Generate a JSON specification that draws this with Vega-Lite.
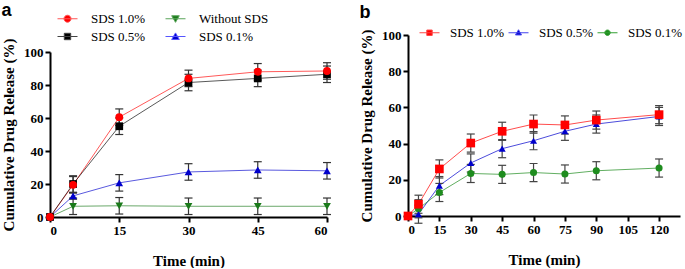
{
  "$schema": "https://vega.github.io/schema/vega-lite/v6.json",
  "padding": {"left": 1, "top": 2, "right": 0, "bottom": 0},
  "spacing": 22,
  "datasets": {
    "a": [
      {"series": "SDS 1.0%", "time": 0, "release": 0, "err": 0},
      {"series": "SDS 1.0%", "time": 5, "release": 19.5, "err": 5},
      {"series": "SDS 1.0%", "time": 15, "release": 60.5, "err": 5},
      {"series": "SDS 1.0%", "time": 30, "release": 84, "err": 5},
      {"series": "SDS 1.0%", "time": 45, "release": 88, "err": 5},
      {"series": "SDS 1.0%", "time": 60, "release": 88.5, "err": 5},
      {"series": "SDS 0.5%", "time": 0, "release": 0, "err": 0},
      {"series": "SDS 0.5%", "time": 5, "release": 20, "err": 5},
      {"series": "SDS 0.5%", "time": 15, "release": 55, "err": 5},
      {"series": "SDS 0.5%", "time": 30, "release": 81.5, "err": 5},
      {"series": "SDS 0.5%", "time": 45, "release": 84, "err": 5},
      {"series": "SDS 0.5%", "time": 60, "release": 86.5, "err": 5},
      {"series": "Without SDS", "time": 0, "release": 0, "err": 0},
      {"series": "Without SDS", "time": 5, "release": 6.5, "err": 5},
      {"series": "Without SDS", "time": 15, "release": 6.8, "err": 5},
      {"series": "Without SDS", "time": 30, "release": 6.5, "err": 5},
      {"series": "Without SDS", "time": 45, "release": 6.5, "err": 5},
      {"series": "Without SDS", "time": 60, "release": 6.5, "err": 5},
      {"series": "SDS 0.1%", "time": 0, "release": 0, "err": 0},
      {"series": "SDS 0.1%", "time": 5, "release": 12.8, "err": 2},
      {"series": "SDS 0.1%", "time": 15, "release": 20.7, "err": 5},
      {"series": "SDS 0.1%", "time": 30, "release": 27.3, "err": 5},
      {"series": "SDS 0.1%", "time": 45, "release": 28.5, "err": 5},
      {"series": "SDS 0.1%", "time": 60, "release": 28, "err": 5}
    ],
    "b": [
      {"series": "SDS 1.0%", "time": 0, "release": 0, "err": 0},
      {"series": "SDS 1.0%", "time": 5, "release": 6.5, "err": 5},
      {"series": "SDS 1.0%", "time": 15, "release": 26, "err": 5},
      {"series": "SDS 1.0%", "time": 30, "release": 40.3, "err": 5},
      {"series": "SDS 1.0%", "time": 45, "release": 46.8, "err": 5},
      {"series": "SDS 1.0%", "time": 60, "release": 50.8, "err": 5},
      {"series": "SDS 1.0%", "time": 75, "release": 50.3, "err": 5},
      {"series": "SDS 1.0%", "time": 90, "release": 53, "err": 5},
      {"series": "SDS 1.0%", "time": 120, "release": 56, "err": 5},
      {"series": "SDS 0.5%", "time": 0, "release": 0, "err": 0},
      {"series": "SDS 0.5%", "time": 5, "release": 1, "err": 5},
      {"series": "SDS 0.5%", "time": 15, "release": 16.8, "err": 5},
      {"series": "SDS 0.5%", "time": 30, "release": 29.3, "err": 5},
      {"series": "SDS 0.5%", "time": 45, "release": 37.2, "err": 5},
      {"series": "SDS 0.5%", "time": 60, "release": 41.6, "err": 5},
      {"series": "SDS 0.5%", "time": 75, "release": 46.8, "err": 5},
      {"series": "SDS 0.5%", "time": 90, "release": 50.8, "err": 5},
      {"series": "SDS 0.5%", "time": 120, "release": 55, "err": 5},
      {"series": "SDS 0.1%", "time": 0, "release": 0, "err": 0},
      {"series": "SDS 0.1%", "time": 5, "release": 4, "err": 5},
      {"series": "SDS 0.1%", "time": 15, "release": 13, "err": 5},
      {"series": "SDS 0.1%", "time": 30, "release": 23.5, "err": 5},
      {"series": "SDS 0.1%", "time": 45, "release": 23, "err": 5},
      {"series": "SDS 0.1%", "time": 60, "release": 24, "err": 5},
      {"series": "SDS 0.1%", "time": 75, "release": 23.2, "err": 5},
      {"series": "SDS 0.1%", "time": 90, "release": 25, "err": 5},
      {"series": "SDS 0.1%", "time": 120, "release": 26.5, "err": 5}
    ]
  },
  "hconcat": [
    {
      "width": 277,
      "height": 182,
      "title": {"text": "a", "anchor": "start", "font": "Liberation Sans", "fontSize": 18, "fontWeight": "bold", "color": "#000", "offset": -12},
      "data": {"name": "a"},
      "encoding": {
        "x": {"field": "time", "type": "quantitative", "scale": {"domain": [0, 60], "nice": false}, "axis": {"values": [0, 15, 30, 45, 60], "title": "Time (min)"}},
        "y": {"field": "release", "type": "quantitative", "scale": {"domain": [0, 100], "nice": false, "range": [182, 17]}, "axis": {"values": [0, 20, 40, 60, 80, 100], "title": "Cumulative Drug Release (%)"}}
      },
      "layer": [
        {
          "mark": {"type": "point", "filled": true, "opacity": 0, "size": 400, "strokeWidth": 1},
          "encoding": {
            "fill": {"field": "series", "type": "nominal", "scale": {"domain": ["SDS 1.0%", "Without SDS", "SDS 0.5%", "SDS 0.1%"], "range": ["#ff0000", "#1a7a1a", "#000000", "#0000cc"]}},
            "stroke": {"field": "series", "type": "nominal", "scale": {"domain": ["SDS 1.0%", "Without SDS", "SDS 0.5%", "SDS 0.1%"], "range": ["#ff5555", "#5aa55a", "#444444", "#5555ff"]}},
            "shape": {"field": "series", "type": "nominal",
              "scale": {"domain": ["SDS 1.0%", "Without SDS", "SDS 0.5%", "SDS 0.1%"], "range": [
                "M-1,0H1M0.35,0A0.35,0.35,0,1,1,-0.35,0A0.35,0.35,0,1,1,0.35,0Z",
                "M-1,0H1M-0.38,-0.3H0.38L0,0.36Z",
                "M-1,0H1M-0.32,-0.32H0.32V0.32H-0.32Z",
                "M-1,0H1M-0.38,0.3H0.38L0,-0.36Z"
              ]},
              "legend": {"title": null, "orient": "none", "legendX": 7, "legendY": -27, "columns": 2, "direction": "horizontal", "symbolSize": 400, "symbolStrokeWidth": 1, "symbolOpacity": 1, "labelOffset": 13, "columnPadding": 17, "rowPadding": -2, "padding": 0, "labelFont": "Liberation Serif", "labelFontSize": 13, "labelColor": "#000"}}
          }
        },
        {
          "mark": {"type": "line", "strokeWidth": 1, "opacity": 0.65},
          "encoding": {"color": {"field": "series", "type": "nominal", "scale": {"domain": ["SDS 1.0%", "Without SDS", "SDS 0.5%", "SDS 0.1%"], "range": ["#ff0000", "#1a7a1a", "#000000", "#0000cc"]}, "legend": null}}
        },
        {
          "mark": {"type": "errorbar", "thickness": 1.2, "color": "#333333", "ticks": {"size": 8, "opacity": 1, "color": "#333333"}},
          "encoding": {"yError": {"field": "err"}, "detail": {"field": "series"}}
        },
        {
          "transform": [{"filter": "datum.series === 'Without SDS'"}],
          "mark": {"type": "point", "shape": "triangle-down", "filled": true, "opacity": 1, "size": 60, "strokeWidth": 0},
          "encoding": {"color": {"field": "series", "type": "nominal", "legend": null}}
        },
        {
          "transform": [{"filter": "datum.series === 'SDS 0.1%'"}],
          "mark": {"type": "point", "shape": "triangle-up", "filled": true, "opacity": 1, "size": 60, "strokeWidth": 0},
          "encoding": {"color": {"field": "series", "type": "nominal", "legend": null}}
        },
        {
          "transform": [{"filter": "datum.series === 'SDS 0.5%'"}],
          "mark": {"type": "point", "shape": "square", "filled": true, "opacity": 1, "size": 60, "strokeWidth": 0},
          "encoding": {"color": {"field": "series", "type": "nominal", "legend": null}}
        },
        {
          "transform": [{"filter": "datum.series === 'SDS 1.0%'"}],
          "mark": {"type": "point", "shape": "circle", "filled": true, "opacity": 1, "size": 62, "strokeWidth": 0},
          "encoding": {"color": {"field": "series", "type": "nominal", "legend": null}}
        }
      ]
    },
    {
      "width": 272,
      "height": 181,
      "title": {"text": "b", "anchor": "start", "font": "Liberation Sans", "fontSize": 18, "fontWeight": "bold", "color": "#000", "offset": 0},
      "data": {"name": "b"},
      "encoding": {
        "x": {"field": "time", "type": "quantitative", "scale": {"domain": [0, 130], "nice": false}, "axis": {"values": [0, 15, 30, 45, 60, 75, 90, 105, 120], "title": "Time (min)"}},
        "y": {"field": "release", "type": "quantitative", "scale": {"domain": [0, 100], "nice": false}, "axis": {"values": [0, 20, 40, 60, 80, 100], "title": "Cumulative Drug Release (%)"}}
      },
      "layer": [
        {
          "mark": {"type": "point", "filled": true, "opacity": 0, "size": 400, "strokeWidth": 1},
          "encoding": {
            "fill": {"field": "series", "type": "nominal", "scale": {"domain": ["SDS 1.0%", "SDS 0.5%", "SDS 0.1%"], "range": ["#ff0000", "#0000cc", "#1e8c1e"]}},
            "stroke": {"field": "series", "type": "nominal", "scale": {"domain": ["SDS 1.0%", "SDS 0.5%", "SDS 0.1%"], "range": ["#ff4444", "#4444ee", "#33a033"]}},
            "shape": {"field": "series", "type": "nominal",
              "scale": {"domain": ["SDS 1.0%", "SDS 0.5%", "SDS 0.1%"], "range": [
                "M-1,0H1M-0.27,-0.27H0.27V0.27H-0.27Z",
                "M-1,0H1M-0.3,0.22H0.3L0,-0.3Z",
                "M-1,0H1M0.27,0A0.27,0.27,0,1,1,-0.27,0A0.27,0.27,0,1,1,0.27,0Z"
              ]},
              "legend": {"title": null, "orient": "none", "legendX": 11, "legendY": -13, "direction": "horizontal", "symbolSize": 400, "symbolStrokeWidth": 1, "symbolOpacity": 1, "labelOffset": 10, "columnPadding": 1, "padding": 0, "labelFont": "Liberation Serif", "labelFontSize": 13, "labelColor": "#000"}}
          }
        },
        {
          "mark": {"type": "line", "strokeWidth": 1, "opacity": 0.7},
          "encoding": {"color": {"field": "series", "type": "nominal", "scale": {"domain": ["SDS 1.0%", "SDS 0.5%", "SDS 0.1%"], "range": ["#ff0000", "#0000cc", "#1e8c1e"]}, "legend": null}}
        },
        {
          "mark": {"type": "errorbar", "thickness": 1.2, "color": "#444444", "ticks": {"size": 8, "opacity": 1, "color": "#444444"}},
          "encoding": {"yError": {"field": "err"}, "detail": {"field": "series"}}
        },
        {
          "transform": [{"filter": "datum.series === 'SDS 0.1%'"}],
          "mark": {"type": "point", "shape": "circle", "filled": true, "opacity": 1, "size": 50, "strokeWidth": 0},
          "encoding": {"color": {"field": "series", "type": "nominal", "legend": null}}
        },
        {
          "transform": [{"filter": "datum.series === 'SDS 0.5%'"}],
          "mark": {"type": "point", "shape": "triangle-up", "filled": true, "opacity": 1, "size": 50, "strokeWidth": 0},
          "encoding": {"color": {"field": "series", "type": "nominal", "legend": null}}
        },
        {
          "transform": [{"filter": "datum.series === 'SDS 1.0%'"}],
          "mark": {"type": "point", "shape": "square", "filled": true, "opacity": 1, "size": 75, "strokeWidth": 0},
          "encoding": {"color": {"field": "series", "type": "nominal", "legend": null}}
        }
      ]
    }
  ],
  "resolve": {
    "scale": {"color": "independent", "shape": "independent", "fill": "independent", "stroke": "independent", "x": "independent", "y": "independent"},
    "legend": {"color": "independent", "shape": "independent", "fill": "independent", "stroke": "independent"}
  },
  "config": {
    "view": {"stroke": null},
    "axis": {"domainColor": "#000", "domainWidth": 2, "tickColor": "#000", "tickWidth": 2, "tickSize": 5, "grid": false, "labelFont": "Liberation Serif", "labelFontWeight": "bold", "labelFontSize": 13, "labelColor": "#000", "labelPadding": 2, "titleFont": "Liberation Serif", "titleFontWeight": "bold", "titleFontSize": 15, "titleColor": "#000"},
    "axisX": {"titlePadding": 16},
    "axisY": {"titlePadding": 7}
  }
}
